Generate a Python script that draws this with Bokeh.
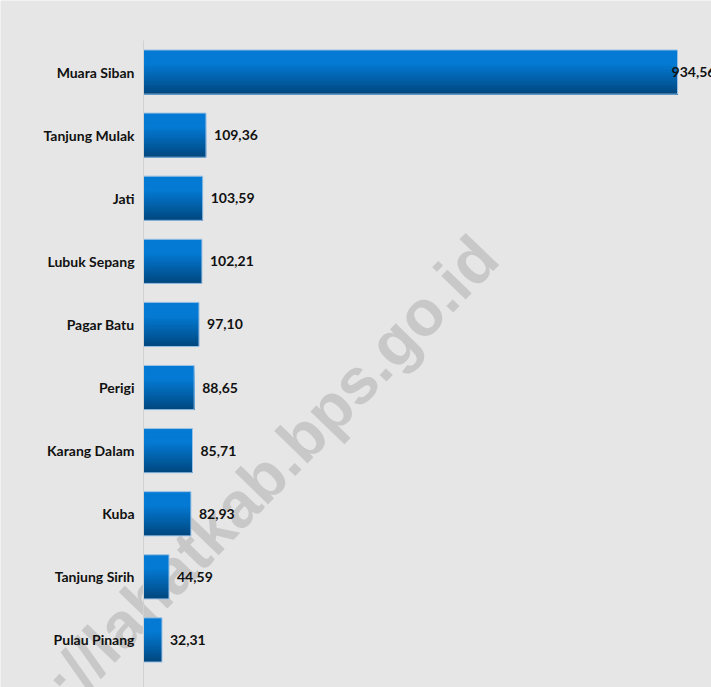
from bokeh.plotting import figure
from bokeh.models import ColumnDataSource, Range1d, Label, FixedTicker
from bokeh.transform import dodge
from bokeh.core.properties import value
from bokeh.embed import file_html
from bokeh.resources import INLINE

villages = ["Muara Siban", "Tanjung Mulak", "Jati", "Lubuk Sepang", "Pagar Batu",
            "Perigi", "Karang Dalam", "Kuba", "Tanjung Sirih", "Pulau Pinang"]
values = [934.56, 109.36, 103.59, 102.21, 97.10, 88.65, 85.71, 82.93, 44.59, 32.31]
labels = [f"{v:.2f}".replace(".", ",") for v in values]

n = len(villages)
ypos = [n - 0.5 - i for i in range(n)]   # first category on top

BG = "#e6e6e6"
FONT = "Lato"

p = figure(width=711, height=687, output_backend="svg", toolbar_location=None,
           x_range=Range1d(-250.3, 994), y_range=Range1d(-0.2536, n + 0.634),
           min_border_left=0, min_border_right=0, min_border_top=0, min_border_bottom=0)
p.background_fill_color = BG
p.border_fill_color = BG
p.outline_line_color = None
p.xgrid.visible = False
p.ygrid.visible = False
p.xaxis.visible = False

ax = p.yaxis[0]
ax.fixed_location = 0
ax.bounds = (-0.2536, n)
ax.ticker = FixedTicker(ticks=ypos)
ax.major_label_overrides = {y: name for y, name in zip(ypos, villages)}
ax.axis_line_color = "#d2d2d2"
ax.axis_line_width = 1
ax.major_tick_line_color = None
ax.minor_tick_line_color = None
ax.major_label_standoff = 3
ax.major_label_text_font = FONT
ax.major_label_text_font_style = "bold"
ax.major_label_text_font_size = "14px"
ax.major_label_text_color = "#111111"

src = ColumnDataSource(dict(y=ypos, val=values, lbl=labels))

# watermark (behind the bars)
wm = Label(x=600, y=6.735, text="https://lahatkab.bps.go.id", angle=46, angle_units="deg",
           text_align="right", text_baseline="alphabetic",
           text_font="Liberation Sans", text_font_style="bold", text_font_size="64px",
           text_color="#c8c8c8", level="underlay")
p.add_layout(wm, "center")

# gradient bars: bottom-anchored stacked slices
H = 0.7
N = 24
top = (4, 122, 212)
bot = (0, 72, 128)
for k in range(N):
    t = k / (N - 1)
    f = 0.0 if t < 0.3 else (t - 0.3) / 0.7
    c = tuple(int(round(top[i] + (bot[i] - top[i]) * f)) for i in range(3))
    col = "#%02x%02x%02x" % c
    upper = H / 2 - k * H / N
    lower = -H / 2
    p.hbar(y=dodge("y", (upper + lower) / 2), right="val", left=0,
           height=upper - lower, source=src, fill_color=col, line_color=None)

p.hbar(y="y", right="val", left=0, height=H, source=src,
       fill_color=None, line_color="#9cc2e4", line_width=1)

src_big = ColumnDataSource(dict(y=ypos[:1], val=values[:1], lbl=labels[:1]))
src_rest = ColumnDataSource(dict(y=ypos[1:], val=values[1:], lbl=labels[1:]))
common = dict(text="lbl", text_baseline="middle", text_align="left",
              text_font=value(FONT), text_font_style="bold", text_font_size="14px",
              text_color="#111111")
p.text(x="val", y="y", source=src_rest, x_offset=8, **common)
p.text(x="val", y="y", source=src_big, x_offset=-6, **common)

open("out.html", "w").write(file_html(p, INLINE))
